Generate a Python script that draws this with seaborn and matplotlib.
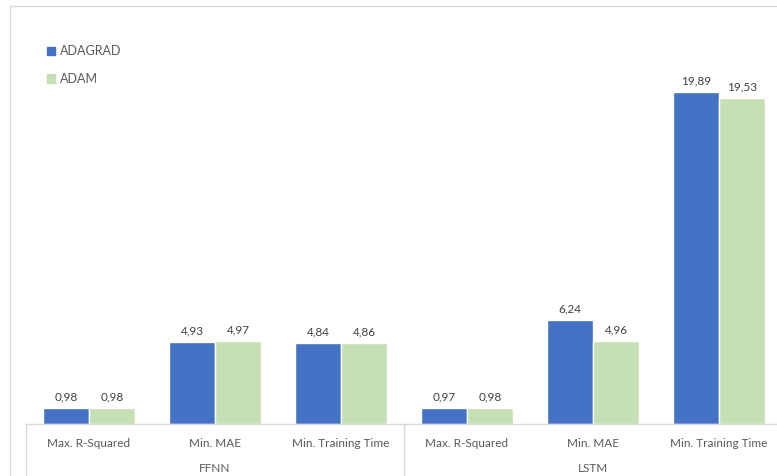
import matplotlib
matplotlib.use('Agg')
import matplotlib.pyplot as plt
import matplotlib.patches as mpatches
import matplotlib.transforms as mtransforms
import seaborn as sns
import pandas as pd

# data
groups = ['FFNN', 'FFNN', 'FFNN', 'LSTM', 'LSTM', 'LSTM']
metrics = ['Max. R-Squared', 'Min. MAE', 'Min. Training Time',
           'Max. R-Squared', 'Min. MAE', 'Min. Training Time']
adagrad = [0.98, 4.93, 4.84, 0.97, 6.24, 19.89]
adam = [0.98, 4.97, 4.86, 0.98, 4.96, 19.53]
optimizers = ['ADAGRAD', 'ADAM']
colors = ['#4472C4', '#C5E0B4']

keys = [g + '|' + m for g, m in zip(groups, metrics)]
df = pd.DataFrame({
    'key': keys * 2,
    'value': adagrad + adam,
    'optimizer': ['ADAGRAD'] * 6 + ['ADAM'] * 6,
})

sns.set_style('white')
plt.rcParams['font.family'] = ['Lato', 'DejaVu Sans']

W, H = 777, 476
fig = plt.figure(figsize=(W / 100, H / 100), dpi=100)
# axes: left edge at x=26px, bottom at y=424px, 126px per category
ax = fig.add_axes([26 / W, 52 / H, 756 / W, 404 / H])

sns.barplot(data=df, x='key', y='value', hue='optimizer', order=keys,
            hue_order=optimizers, palette=colors, width=0.73, gap=0,
            saturation=1, legend=False, ax=ax)

ax.set_ylim(0, 404 / 16.69)
ax.set_xlim(-0.5, 5.5)
ax.set_xlabel('')
ax.set_ylabel('')
ax.set_yticks([])
ax.set_xticks(range(6))
ax.set_xticklabels(metrics, fontsize=8.5, color='#595959')
ax.tick_params(axis='x', length=0, pad=10)
for s in ['top', 'right', 'left']:
    ax.spines[s].set_visible(False)
ax.spines['bottom'].set_color('#D9D9D9')
ax.spines['bottom'].set_linewidth(1)

for cont, vals in zip(ax.containers, [adagrad, adam]):
    ax.bar_label(cont, labels=[f'{v:.2f}'.replace('.', ',') for v in vals],
                 padding=4, fontsize=8.5, color='#404040')

# multi-level category separators and group labels
trans = mtransforms.blended_transform_factory(ax.transData, ax.transAxes)
for xb in [-0.5, 2.5, 5.5]:
    ax.plot([xb, xb], [0, -60 / 404], color='#D9D9D9', lw=1,
            transform=trans, clip_on=False)
for xc, g in [(1, 'FFNN'), (4, 'LSTM')]:
    ax.text(xc, -44 / 404, g, transform=trans, ha='center', va='center',
            fontsize=8.5, color='#595959')

# chart border
fig.patches.append(mpatches.Rectangle((10 / W, -0.1), 1.2, (H - 6) / H + 0.1,
                                      transform=fig.transFigure, fill=False,
                                      edgecolor='#D9D9D9', lw=1))

handles = [mpatches.Patch(color=c, label=l) for c, l in zip(colors, optimizers)]
fig.legend(handles=handles, loc='upper left', bbox_to_anchor=(36 / W, 1 - 34 / H),
           frameon=False, fontsize=9, handlelength=0.65, handleheight=0.65,
           handletextpad=0.35, labelspacing=1.25, labelcolor='#595959')

fig.savefig('out.png', dpi=100)
